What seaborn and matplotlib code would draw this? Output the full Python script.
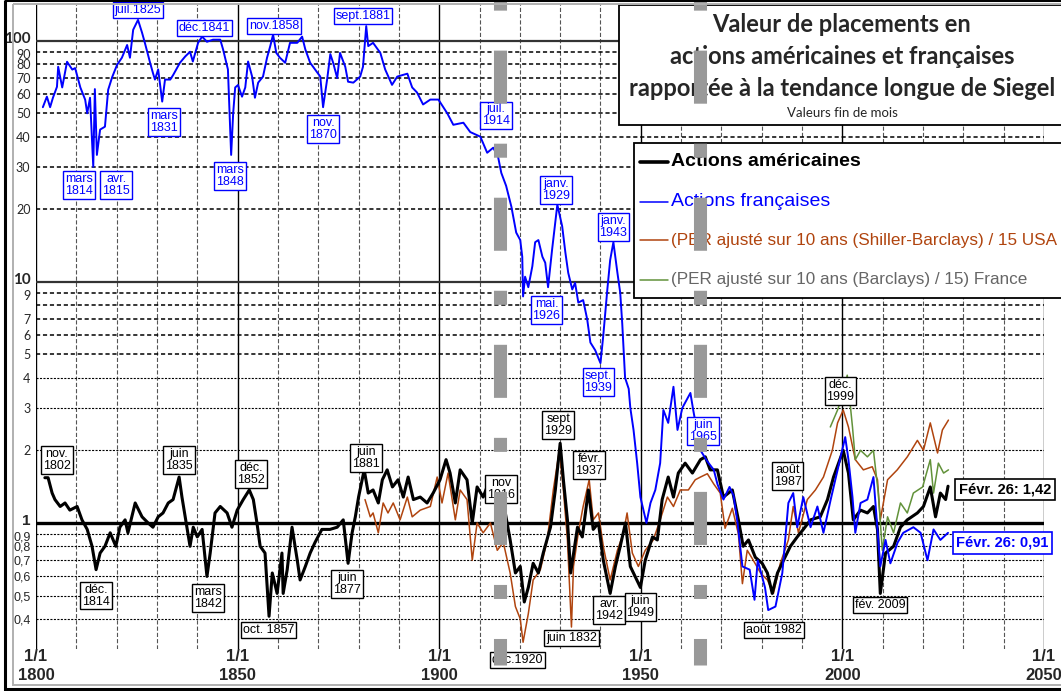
import numpy as np
import pandas as pd
import matplotlib
matplotlib.use("Agg")
import matplotlib.pyplot as plt
import matplotlib.transforms as mtransforms
from matplotlib.patches import Rectangle
from matplotlib.lines import Line2D
from matplotlib.ticker import FixedLocator, NullLocator, NullFormatter
import seaborn as sns

# French stocks / Siegel long trend
fr_years = [1801.7, 1802.7, 1803.5, 1804.2, 1805.2, 1805.5, 1806.5, 1807.7, 1809.0, 1809.7,
            1811.0, 1812.2, 1812.7, 1813.4, 1814.2, 1814.6, 1815.1, 1815.9, 1817.1, 1817.9,
            1818.9, 1820.1, 1821.3, 1822.6, 1823.3, 1824.1, 1825.3, 1826.3, 1827.0, 1828.3,
            1829.0, 1829.5, 1830.3, 1831.3, 1832.0, 1833.3, 1834.0, 1835.7, 1837.0, 1838.2,
            1838.9, 1840.2, 1841.2, 1842.4, 1843.9, 1845.7, 1846.4, 1847.6, 1848.4, 1848.9,
            1849.4, 1850.1, 1851.1, 1851.9, 1852.6, 1853.6, 1854.3, 1855.1, 1856.3, 1857.3,
            1858.1, 1858.8, 1859.6, 1860.5, 1861.8, 1863.0, 1864.8, 1866.0, 1866.8, 1868.0,
            1869.7, 1870.5, 1871.2, 1872.2, 1873.0, 1873.7, 1874.7, 1875.4, 1876.7, 1877.4,
            1878.7, 1880.4, 1881.1, 1881.9, 1882.4, 1883.6, 1885.4, 1886.6, 1888.3, 1889.6,
            1892.1, 1893.3, 1894.5, 1896.0, 1897.8, 1899.8, 1902.0, 1903.5, 1906.0, 1907.7,
            1910.2, 1911.9, 1913.4, 1914.6, 1915.4, 1916.6, 1917.9, 1919.1, 1920.1, 1920.6,
            1920.8, 1921.3, 1922.1, 1923.1, 1923.8, 1924.6, 1925.6, 1926.3, 1927.0, 1928.0,
            1928.8, 1929.3, 1930.5, 1931.3, 1932.0, 1933.0, 1933.7, 1934.5, 1935.7, 1936.7,
            1937.5, 1938.7, 1940.0, 1940.7, 1941.7, 1942.4, 1943.2, 1944.2, 1944.9, 1945.4,
            1946.1, 1947.0, 1947.4, 1948.2, 1949.1, 1949.9, 1951.4, 1952.4, 1953.6, 1954.8,
            1955.6, 1956.8, 1958.1, 1959.1, 1960.3, 1962.3, 1963.0, 1964.8, 1966.5, 1968.1,
            1969.0, 1970.5, 1972.0, 1973.0, 1974.0, 1975.2, 1977.0, 1978.2, 1979.0, 1980.8,
            1981.6, 1983.4, 1985.1, 1986.6, 1987.8, 1988.8, 1990.3, 1992.1, 1993.8, 1995.3,
            1997.1, 1998.8, 2000.7, 2001.5, 2002.5, 2003.2, 2004.5, 2006.2, 2007.7, 2009.4,
            2010.7, 2011.9, 2013.7, 2015.1, 2017.6, 2019.4, 2021.1, 2022.6, 2024.3, 2026.2]
fr_values = [53, 58.6, 53, 58, 64.4, 78, 64, 81.8, 75.9, 77,
             64, 56.9, 50, 58, 30, 63, 33.6, 42.8, 44, 62.6,
             70.7, 79.4, 85, 96, 85, 111, 122, 108, 98, 81,
             73.5, 69, 76, 55.9, 69, 69, 72, 81, 86, 90,
             82, 98, 104, 99, 101, 101, 92, 76, 33.6, 50,
             64, 65.5, 58.6, 64, 82, 71, 58, 67, 71, 85,
             95, 106, 89, 85, 81, 98, 98, 104, 92, 81,
             74, 71, 53, 69, 88, 81, 70, 89, 78, 67.6,
             67, 71, 78, 115, 95, 98, 89, 76, 65.6, 71,
             73, 64, 61, 54.4, 57, 57, 50, 44.8, 45.7, 41.8,
             40, 34.3, 36, 33, 28.3, 25, 20.5, 16, 14.9, 12.7,
             8.7, 10.5, 9.5, 11.6, 14.6, 14.9, 12.7, 12, 9.5, 13.6,
             17.7, 20.9, 17, 13.2, 10.9, 9.3, 9.9, 8.2, 8.4, 7.0,
             5.6, 5.2, 4.6, 6.0, 9.3, 12.3, 14.6, 10.9, 9.0, 6.7,
             4.0, 3.6, 3.0, 2.43, 1.77, 1.28, 1.0, 1.21, 1.37, 1.77,
             2.94, 2.6, 3.67, 2.43, 3.0, 3.46, 2.94, 2.0, 1.8, 1.66,
             1.45, 1.25, 1.41, 1.3, 1.0, 0.66, 0.64, 0.48, 0.70, 0.54,
             0.435, 0.45, 0.62, 1.21, 1.33, 0.96, 1.28, 0.96, 1.17, 0.91,
             1.25, 1.66, 2.27, 1.83, 1.28, 0.91, 1.21, 1.25, 1.55, 0.66,
             0.85, 0.68, 0.83, 0.91, 0.96, 0.91, 0.70, 0.94, 0.85, 0.91]

# US stocks / Siegel long trend
us_years = [1802.2, 1803.0, 1804.0, 1804.7, 1806.0, 1807.2, 1808.4, 1810.2, 1811.4, 1812.7,
            1813.9, 1814.9, 1815.9, 1817.1, 1818.4, 1819.8, 1820.8, 1822.1, 1822.8, 1824.6,
            1826.3, 1827.8, 1829.0, 1830.3, 1831.5, 1832.8, 1834.0, 1835.5, 1836.2, 1837.5,
            1838.2, 1839.0, 1840.0, 1841.2, 1842.4, 1843.2, 1844.4, 1845.7, 1847.4, 1848.6,
            1849.9, 1851.4, 1852.9, 1853.9, 1854.8, 1855.6, 1856.8, 1857.8, 1858.6, 1859.8,
            1861.0, 1861.3, 1862.3, 1863.5, 1864.8, 1865.5, 1866.8, 1868.0, 1869.2, 1870.9,
            1872.9, 1874.7, 1876.2, 1877.4, 1878.4, 1879.2, 1880.0, 1881.4, 1882.4, 1883.6,
            1884.9, 1885.9, 1887.1, 1888.4, 1889.8, 1891.1, 1892.3, 1893.6, 1895.3, 1897.0,
            1898.5, 1900.2, 1901.7, 1902.7, 1904.0, 1905.2, 1906.9, 1908.2, 1909.4, 1910.9,
            1912.2, 1914.4, 1916.4, 1917.6, 1918.9, 1920.1, 1921.1, 1922.1, 1923.3, 1924.6,
            1925.8, 1927.6, 1928.8, 1930.0, 1930.8, 1931.8, 1932.6, 1934.3, 1935.5, 1937.0,
            1938.2, 1939.5, 1940.7, 1942.4, 1943.7, 1944.9, 1946.2, 1947.4, 1948.6, 1949.9,
            1951.1, 1952.9, 1954.1, 1955.3, 1956.8, 1958.1, 1959.3, 1961.0, 1962.8, 1964.8,
            1966.0, 1967.2, 1969.0, 1970.5, 1972.7, 1974.2, 1975.4, 1976.7, 1978.4, 1980.1,
            1981.4, 1982.6, 1983.9, 1985.4, 1987.1, 1988.8, 1990.3, 1992.1, 1994.5, 1996.3,
            1997.8, 2000.2, 2001.5, 2002.7, 2004.5, 2006.2, 2007.7, 2008.7, 2009.4, 2010.7,
            2012.7, 2014.4, 2016.1, 2018.6, 2020.1, 2021.8, 2023.1, 2024.3, 2025.6, 2026.2]
us_values = [1.54, 1.54, 1.33, 1.25, 1.17, 1.21, 1.13, 1.17, 1.03, 0.94,
             0.80, 0.64, 0.75, 0.80, 0.91, 0.80, 0.96, 1.03, 0.91, 1.21,
             1.06, 1.0, 0.96, 1.06, 1.10, 1.21, 1.25, 1.55, 1.28, 0.94,
             0.80, 0.96, 0.875, 0.94, 0.60, 0.75, 1.10, 1.17, 1.10, 0.96,
             1.13, 1.25, 1.37, 1.25, 1.0, 0.80, 0.75, 0.41, 0.62, 0.51,
             0.75, 0.51, 0.64, 0.96, 0.70, 0.58, 0.66, 0.75, 0.83, 0.94,
             0.94, 0.96, 1.03, 0.68, 0.91, 1.06, 1.28, 1.66, 1.33, 1.37,
             1.21, 1.51, 1.66, 1.41, 1.51, 1.28, 1.55, 1.25, 1.28, 1.21,
             1.33, 1.51, 1.83, 1.61, 1.21, 1.66, 1.51, 1.0, 1.41, 1.28,
             1.46, 1.28, 1.10, 0.85, 0.62, 0.66, 0.47, 0.54, 0.68, 0.62,
             0.75, 0.96, 1.37, 2.14, 1.51, 1.03, 0.62, 0.96, 0.875, 1.37,
             0.94, 1.0, 0.70, 0.51, 0.66, 0.80, 1.0, 0.66, 0.60, 0.54,
             0.70, 0.875, 0.85, 1.25, 1.55, 1.28, 1.61, 1.77, 1.61, 1.83,
             1.88, 1.66, 1.66, 1.28, 1.37, 1.03, 0.80, 0.85, 0.72, 0.68,
             0.62, 0.51, 0.62, 0.70, 0.80, 0.875, 0.94, 1.03, 1.06, 1.25,
             1.55, 2.0, 1.61, 1.03, 1.13, 1.10, 1.17, 0.94, 0.51, 0.75,
             0.80, 0.96, 1.03, 1.10, 1.17, 1.41, 1.06, 1.33, 1.25, 1.42]

# Shiller CAPE / 15, USA
per_us_years = [1881.6, 1882.9, 1883.6, 1884.9, 1886.1, 1887.3, 1888.6, 1890.3, 1892.1, 1893.3,
                1895.3, 1897.8, 1899.5, 1900.7, 1902.2, 1904.0, 1905.2, 1906.9, 1908.2, 1909.4,
                1910.9, 1912.7, 1914.4, 1915.9, 1917.6, 1918.9, 1920.1, 1920.8, 1922.1, 1923.3,
                1925.1, 1926.8, 1928.3, 1929.8, 1930.8, 1931.8, 1932.8, 1933.3, 1934.5, 1935.7,
                1937.2, 1938.2, 1939.5, 1940.7, 1942.4, 1944.2, 1945.7, 1946.6, 1947.9, 1949.4,
                1951.1, 1953.1, 1954.8, 1956.6, 1958.1, 1959.8, 1961.8, 1963.5, 1964.8, 1966.5,
                1968.1, 1969.7, 1970.9, 1972.7, 1974.2, 1975.2, 1976.4, 1977.9, 1979.7, 1981.4,
                1982.9, 1984.6, 1986.6, 1987.8, 1989.1, 1991.3, 1993.3, 1995.3, 1997.5, 1998.8,
                2000.2, 2001.5, 2003.2, 2005.2, 2007.4, 2008.7, 2009.4, 2011.2, 2013.6, 2016.1,
                2018.6, 2020.1, 2021.8, 2023.6, 2024.8, 2026.3]
per_us_values = [1.25, 1.06, 1.10, 0.91, 1.21, 1.10, 1.21, 1.03, 1.28, 1.06,
                 1.13, 1.17, 1.55, 1.21, 1.61, 1.03, 1.37, 1.25, 0.70, 1.0,
                 0.91, 1.0, 0.77, 0.83, 0.62, 0.45, 0.40, 0.32, 0.42, 0.58,
                 0.64, 0.85, 1.37, 2.0, 1.37, 0.85, 0.37, 0.66, 0.91, 1.17,
                 1.51, 1.03, 1.10, 0.80, 0.58, 0.77, 0.91, 1.10, 0.75, 0.66,
                 0.77, 0.85, 1.03, 1.28, 1.17, 1.37, 1.37, 1.51, 1.55, 1.6,
                 1.45, 1.33, 0.95, 1.15, 0.9, 0.56, 0.77, 0.70, 0.62, 0.58,
                 0.51, 0.68, 0.85, 1.17, 0.91, 1.25, 1.37, 1.55, 2.0, 2.6,
                 2.94, 2.5, 1.83, 1.66, 1.71, 1.51, 1.03, 1.51, 1.66, 1.88,
                 2.2, 2.0, 2.6, 1.95, 2.43, 2.67]

# Barclays CAPE / 15, France
per_fr_years = [1997.0, 1998.8, 2000.2, 2001.2, 2002.5, 2003.2, 2004.5, 2006.2, 2007.7, 2008.9,
                2009.9, 2011.2, 2012.7, 2014.4, 2016.1, 2017.6, 2019.9, 2021.8, 2022.6, 2023.8,
                2025.1, 2026.3]
per_fr_values = [2.5, 2.94, 3.46, 4.1, 2.5, 1.83, 2.0, 1.88, 2.0, 1.33,
                 0.77, 1.06, 0.91, 1.21, 1.10, 1.33, 1.41, 1.83, 1.33, 1.77,
                 1.61, 1.66]

y_ticks = [0.4, 0.5, 0.6, 0.7, 0.8, 0.9, 1, 2, 3, 4, 5, 6, 7, 9, 10,
           20, 30, 40, 50, 60, 70, 80, 90, 100]
y_tick_labels = ["0,4", "0,5", "0,6", "0,7", "0,8", "0,9", "1", "2", "3", "4", "5", "6", "7", "9", "10",
                 "20", "30", "40", "50", "60", "70", "80", "90", "100"]
x_ticks = [1800, 1850, 1900, 1950, 2000, 2050]
x_tick_labels = ["1/1\n1800", "1/1\n1850", "1/1\n1900", "1/1\n1950", "1/1\n2000", "1/1\n2050"]

BLUE = "#0000ff"
BROWN = "#b0440e"
GREEN = "#62923a"

sns.set_theme(style="white")
plt.rcParams['font.family'] = ['Liberation Sans', 'DejaVu Sans']
plt.rcParams['lines.scale_dashes'] = False

W, H = 1061, 691
fig = plt.figure(figsize=(W / 100, H / 100), dpi=100)
fig.patch.set_facecolor("white")
ax = fig.add_axes([36 / W, 1 - 649 / H, (1044 - 36) / W, (649 - 4) / H])
ax.set_yscale("log")
ax.set_xlim(1800, 2050)
ax.set_ylim(0.3, 142)
for s in ax.spines.values():
    s.set_visible(False)

# pixel transform (x right, y down) for the boxes around the chart
px = mtransforms.Affine2D().scale(1 / W, -1 / H).translate(0, 1) + fig.transFigure

# grid
for yr in range(1810, 2050, 10):
    if yr % 50:
        ax.axvline(yr, color="#555555", lw=0.8, ls=(0, (3, 1.5)), zorder=1)
for yr in x_ticks:
    ax.axvline(yr, color="black", lw=1.0, zorder=1)
for v in [5, 6, 7, 8, 9, 20, 30, 40, 50, 60, 70, 80, 90]:
    ax.axhline(v, color="black", lw=1.1, ls=(0, (3, 2)), zorder=1)
for v in [0.4, 0.5, 0.6, 0.7, 0.8, 0.9, 2, 3, 4]:
    ax.axhline(v, color="black", lw=0.8, ls=(0, (1.5, 1)), zorder=1)
for v in [10, 100]:
    ax.axhline(v, color="#333333", lw=1.6, zorder=1)
ax.axhline(1, color="black", lw=2.4, zorder=2)

# series
sns.lineplot(x=per_us_years, y=per_us_values, ax=ax, color=BROWN, lw=1.1, zorder=3)
sns.lineplot(x=per_fr_years, y=per_fr_values, ax=ax, color=GREEN, lw=1.1, zorder=3)
sns.lineplot(x=us_years, y=us_values, ax=ax, color="black", lw=2.2, zorder=4)
sns.lineplot(x=fr_years, y=fr_values, ax=ax, color=BLUE, lw=1.4, zorder=5)

# ticks
ax.xaxis.set_major_locator(FixedLocator(x_ticks))
ax.set_xticklabels(x_tick_labels)
ax.yaxis.set_major_locator(FixedLocator(y_ticks))
ax.yaxis.set_minor_locator(NullLocator())
ax.yaxis.set_minor_formatter(NullFormatter())
ax.set_yticklabels(y_tick_labels)
ax.tick_params(axis="both", length=0)
ax.tick_params(axis="y", pad=4)
ax.tick_params(axis="x", pad=0)
for lab in ax.get_xticklabels():
    lab.set_fontsize(12)
    lab.set_fontweight("bold")
    lab.set_linespacing(1.35)
    lab.set_family(["Liberation Sans Narrow", "Liberation Sans"])
# the bold decade labels sit a touch high, the ones just under them a touch low
nudge_up = mtransforms.ScaledTranslation(0, 2.5 / 72, fig.dpi_scale_trans)
nudge_down = mtransforms.ScaledTranslation(0, -1.5 / 72, fig.dpi_scale_trans)
for lab in ax.get_yticklabels():
    t = lab.get_text()
    if t in ("1", "10", "100"):
        lab.set_fontsize(11)
        lab.set_fontweight("bold")
        lab.set_transform(lab.get_transform() + nudge_up)
    else:
        lab.set_fontsize(9)
        if t in ("0,9", "9", "90"):
            lab.set_transform(lab.get_transform() + nudge_down)
    if "," in t or t == "1":
        lab.set_family(["Liberation Sans", "DejaVu Sans"])
    else:
        lab.set_family(["Lato", "DejaVu Sans"])

# point labels (text, year, value, colour)
notes = [
    ("juil.1825", 1825.3, 134, BLUE), ("déc.1841", 1841.7, 113, BLUE),
    ("nov.1858", 1859.1, 115, BLUE), ("sept.1881", 1881.1, 127, BLUE),
    ("mars\n1814", 1810.7, 25.3, BLUE), ("avr.\n1815", 1819.9, 25.3, BLUE),
    ("mars\n1831", 1831.8, 46, BLUE), ("mars\n1848", 1848.1, 27.5, BLUE),
    ("nov.\n1870", 1871.2, 43, BLUE), ("juil.\n1914", 1914.1, 49, BLUE),
    ("janv.\n1929", 1929.0, 24.1, BLUE), ("janv.\n1943", 1943.2, 16.9, BLUE),
    ("mai.\n1926", 1926.6, 7.65, BLUE), ("sept.\n1939", 1939.5, 3.85, BLUE),
    ("juin\n1965", 1965.5, 2.41, BLUE),
    ("nov.\n1802", 1805.2, 1.83, "black"), ("juin\n1835", 1835.5, 1.83, "black"),
    ("déc.\n1852", 1853.3, 1.60, "black"), ("déc.\n1814", 1814.9, 0.50, "black"),
    ("mars\n1842", 1842.7, 0.49, "black"), ("oct. 1857", 1857.6, 0.36, "black"),
    ("juin\n1877", 1877.2, 0.56, "black"), ("juin\n1881", 1881.9, 1.86, "black"),
    ("nov\n1916", 1915.4, 1.38, "black"), ("sept\n1929", 1929.5, 2.55, "black"),
    ("févr.\n1937", 1937.2, 1.74, "black"), ("avr.\n1942", 1942.2, 0.435, "black"),
    ("juin\n1949", 1949.9, 0.448, "black"), ("déc.1920", 1919.4, 0.27, "black"),
    ("juin 1832", 1932.8, 0.333, "black"), ("déc.\n1999", 1999.5, 3.53, "black"),
    ("août\n1987", 1986.4, 1.57, "black"), ("août 1982", 1983.1, 0.36, "black"),
    ("fév. 2009", 2009.4, 0.457, "black"),
]
for txt, x, y, c in notes:
    ax.text(x, y, txt, color=c, fontsize=9, ha="center", va="center", linespacing=1.0,
            zorder=8, clip_on=False,
            bbox=dict(boxstyle="square,pad=0.15", fc="white", ec=c, lw=1.0))

ax.text(2040.4, 1.38, "Févr. 26: 1,42", color="black", fontsize=10.5, fontweight="bold",
        ha="center", va="center", zorder=8,
        bbox=dict(boxstyle="square,pad=0.25", fc="white", ec="black", lw=1.2))
ax.text(2039.7, 0.826, "Févr. 26: 0,91", color=BLUE, fontsize=10.5, fontweight="bold",
        ha="center", va="center", zorder=8,
        bbox=dict(boxstyle="square,pad=0.25", fc="white", ec=BLUE, lw=1.2))

# title box
ax.add_patch(Rectangle((619, 5), 460, 120, transform=px, fc="white", ec="black",
                       lw=1.3, zorder=10, clip_on=False))
for i, line in enumerate(["Valeur de placements en", "actions américaines et françaises",
                          "rapportée à la tendance longue de Siegel"]):
    ax.text(842, 25 + 31.5 * i, line, transform=px, ha="center", va="center",
            fontsize=17, fontweight="bold", family=["Lato", "DejaVu Sans"], zorder=11)
ax.text(842, 113, "Valeurs fin de mois", transform=px, ha="center", va="center",
        fontsize=9.5, family=["Lato", "DejaVu Sans"], zorder=11)

# legend box
ax.add_patch(Rectangle((634, 143), 450, 155, transform=px, fc="white", ec="black",
                       lw=1.3, zorder=10, clip_on=False))
legend_rows = [
    ("Actions américaines", "black", 2.6, "black", 14, "bold", 162),
    ("Actions françaises", BLUE, 1.1, BLUE, 14, "normal", 202),
    ("(PER ajusté sur 10 ans (Shiller-Barclays) / 15 USA", BROWN, 1.1, BROWN, 12.3, "normal", 240),
    ("(PER ajusté sur 10 ans (Barclays) / 15) France", GREEN, 1.1, "#666666", 12.3, "normal", 280),
]
for txt, lc, lw, tc, fs, fw, yy in legend_rows:
    ax.add_line(Line2D([640, 668], [yy, yy], transform=px, color=lc, lw=lw, zorder=11,
                       clip_on=False))
    ax.text(671, yy, txt, transform=px, color=tc, fontsize=fs, fontweight=fw,
            ha="left", va="center", zorder=11)

# thick grey dash-dot markers
btrans = mtransforms.blended_transform_factory(ax.transData, ax.transAxes)
for yr in [1915.0, 1964.8]:
    ax.plot([yr, yr], [1.0062, -0.025], transform=btrans, color="#999999", lw=9.4,
            ls=(69.8, (38.2, 28.8, 10.1, 28.8)), zorder=30, clip_on=False)

# outer frame
fig.patches.append(Rectangle((5, 0), 1070, 689, transform=px, fill=False, ec="black", lw=2.2))
fig.patches.append(Rectangle((13, 4), 1070, 681, transform=px, fill=False, ec="#b0b0b0", lw=1.4))

fig.savefig("out.png", dpi=100, facecolor="white")
